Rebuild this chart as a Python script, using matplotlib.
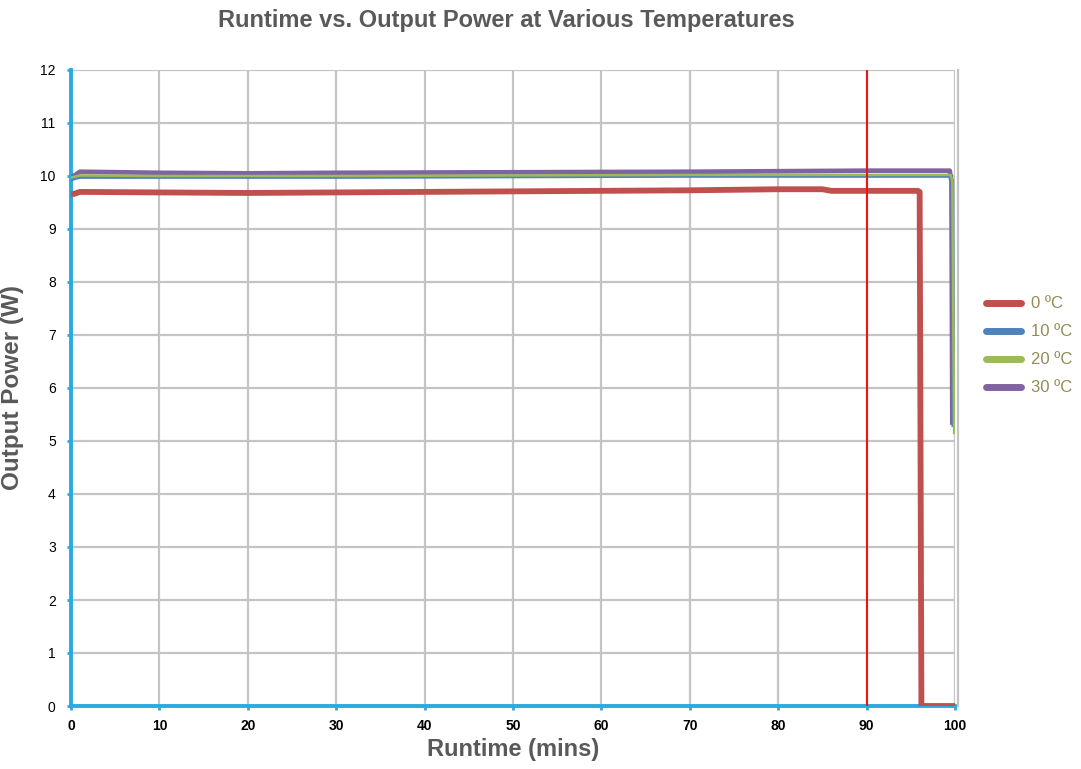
import matplotlib
matplotlib.use("Agg")
import matplotlib.pyplot as plt
from matplotlib.lines import Line2D

plt.rcParams["font.family"] = ["Liberation Sans", "DejaVu Sans"]

title = "Runtime vs. Output Power at Various Temperatures"
xlabel = "Runtime (mins)"
ylabel = "Output Power (W)"

t0 = [0, 0.3, 1, 10, 20, 30, 40, 50, 60, 70, 80, 85, 86, 90, 95.8, 96.0, 96.2, 100]
p0 = [9.66, 9.66, 9.70, 9.69, 9.68, 9.69, 9.70, 9.71, 9.72, 9.73, 9.75, 9.75, 9.72, 9.72, 9.72, 9.70, 0.0, 0.0]

t10 = [0, 0.5, 1, 10, 30, 50, 70, 90, 99.5, 99.7, 99.8]
p10 = [9.93, 9.96, 9.98, 9.98, 9.98, 9.99, 10.0, 10.0, 10.0, 9.9, 5.3]

t20 = [0, 0.5, 1, 10, 30, 50, 70, 90, 99.5, 99.7, 99.9]
p20 = [9.97, 9.99, 10.01, 10.00, 10.00, 10.01, 10.02, 10.02, 10.02, 9.9, 5.15]

t30 = [0, 0.5, 1, 10, 20, 30, 50, 70, 90, 99.4, 99.6, 99.7]
p30 = [9.98, 10.02, 10.08, 10.06, 10.05, 10.06, 10.07, 10.08, 10.10, 10.10, 9.9, 5.35]

labels = ["0 ºC", "10 ºC", "20 ºC", "30 ºC"]
colors = ["#C0504D", "#4F81BD", "#9BBB59", "#8064A2"]

marker_x = 90

fig = plt.figure(figsize=(10.81, 7.69), dpi=100)
ax = fig.add_axes([71/1081, 1-706/769, (955-71)/1081, (706-70)/769])

ax.plot(t0, p0, color=colors[0], lw=4.2, solid_capstyle="butt", zorder=3)
ax.plot(t10, p10, color=colors[1], lw=2.6, zorder=4)
ax.plot(t20, p20, color=colors[2], lw=1.8, zorder=5)
ax.plot(t30, p30, color=colors[3], lw=3.4, zorder=3.5)
ax.plot([marker_x, marker_x], [0, 12], color="#E8161B", lw=1.5, zorder=6)

ax.set_xlim(0, 100)
ax.set_ylim(0, 12)
ax.grid(True, color="#C4C4C4", lw=1.6)
ax.set_axisbelow(True)
ax.tick_params(axis="both", length=3, width=2, color="#29ABE2", labelsize=10)
ax.tick_params(axis="x", pad=6)
ax.tick_params(axis="y", pad=8)
xt = list(range(0, 101, 10))
yt = list(range(0, 13, 1))
ax.set_xticks(xt, [str(v) for v in xt], fontweight="bold")
ax.set_yticks(yt, [str(v) for v in yt], fontweight="bold")

for s in ["left", "bottom"]:
    ax.spines[s].set_color("#29ABE2")
    ax.spines[s].set_linewidth(2.8)
ax.spines["top"].set_visible(False)
ax.spines["right"].set_color("#C4C4C4")
ax.spines["right"].set_linewidth(1.6)
ax.spines["right"].set_position(("data", 100.3))

ax.set_xlabel(xlabel, fontsize=17, fontweight="bold", color="#595959", labelpad=4)
ax.set_ylabel(ylabel, fontsize=17.5, fontweight="bold", color="#595959", labelpad=12)
fig.suptitle(title, x=0.468, y=0.988, fontsize=17, fontweight="bold", color="#595959")

handles = [Line2D([0], [0], color=c, lw=5, solid_capstyle="round") for c in colors]
leg = fig.legend(handles, labels, loc="center left", bbox_to_anchor=(986/1081, 1-346/769),
                 frameon=False, fontsize=12, handlelength=2.1, labelspacing=0.78,
                 handletextpad=0.6, borderpad=0, borderaxespad=0)
for txt in leg.get_texts():
    txt.set_color("#948A54")

fig.savefig("out.png", dpi=100)
